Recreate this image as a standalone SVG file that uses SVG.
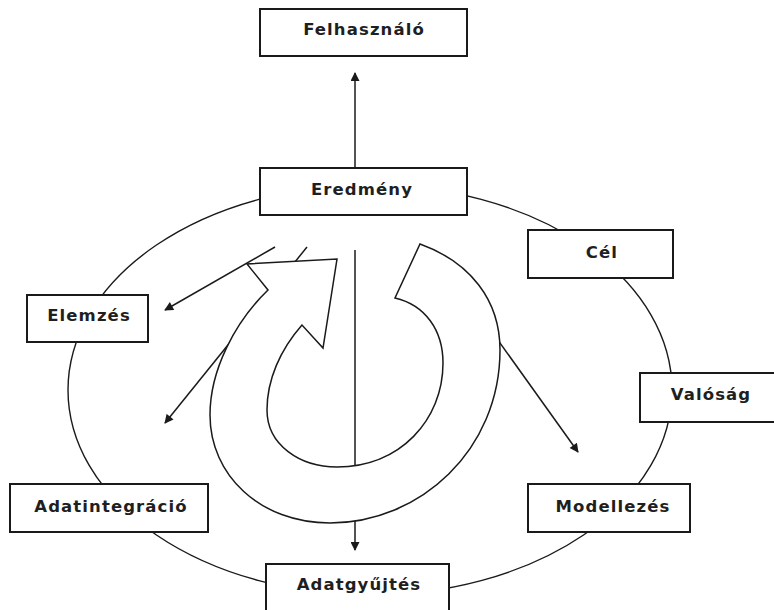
<svg xmlns="http://www.w3.org/2000/svg" width="774" height="610" viewBox="0 0 774 610">
<defs>
<style>
.box{fill:#fff;stroke:#1a1a1a;stroke-width:2}
.lbl{font-family:"DejaVu Sans",Verdana,sans-serif;font-weight:bold;font-size:16.5px;letter-spacing:1.1px;fill:#1f1f1f;text-anchor:middle;dominant-baseline:central}
.ln{fill:none;stroke:#1a1a1a;stroke-width:1.4}
.arw{fill:none;stroke:#1a1a1a;stroke-width:1.5;marker-end:url(#ah)}
</style>
<marker id="ah" viewBox="0 0 10 10" refX="9" refY="5" markerWidth="10" markerHeight="9" markerUnits="userSpaceOnUse" orient="auto">
<path d="M0,0 L10,5 L0,10 Z" fill="#1a1a1a"/>
</marker>
</defs>
<rect width="774" height="610" fill="#fff"/>
<g id="connectors">
<ellipse class="ln" cx="370" cy="390" rx="302" ry="205"/>
<line class="arw" x1="355" y1="168" x2="355" y2="73"/>
<line class="arw" x1="355" y1="250" x2="355" y2="550"/>
<line class="arw" x1="275" y1="247" x2="165" y2="310"/>
<line class="arw" x1="307" y1="247" x2="165" y2="423"/>
<line class="arw" x1="480" y1="315" x2="578" y2="452"/>
</g>
<g id="cycle-arrow">
<path d="M420,244 C470,262 500,300 500,350 C500,450 420,523 330,523 C260,523 210,475 210,415 C210,370 235,322 268,290 L247,264 L337,259 L323,348 L302,325 C280,350 267,380 267,410 C267,445 300,467 337,467 C400,467 443,420 443,363 C443,330 425,305 395,298 Z" fill="#fff" stroke="#1a1a1a" stroke-width="1.5" stroke-linejoin="miter"/>
</g>
<g id="felhasznalo"><rect class="box" x="260" y="9" width="207" height="47"/><text class="lbl" x="364" y="29">Felhasználó</text></g>
<g id="eredmeny"><rect class="box" x="260" y="168" width="207" height="47"/><text class="lbl" x="362" y="189">Eredmény</text></g>
<g id="cel"><rect class="box" x="528" y="230" width="145" height="48"/><text class="lbl" x="602" y="252">Cél</text></g>
<g id="valosag"><rect class="box" x="640" y="373" width="145" height="49"/><text class="lbl" x="711" y="394">Valóság</text></g>
<g id="elemzes"><rect class="box" x="27" y="295" width="121" height="47"/><text class="lbl" x="89" y="315">Elemzés</text></g>
<g id="adatintegracio"><rect class="box" x="10" y="484" width="198" height="48"/><text class="lbl" x="111" y="506">Adatintegráció</text></g>
<g id="modellezes"><rect class="box" x="528" y="484" width="162" height="48"/><text class="lbl" x="613" y="506">Modellezés</text></g>
<g id="adatgyujtes"><rect class="box" x="266" y="564" width="183" height="60"/><text class="lbl" x="359" y="584">Adatgyűjtés</text></g>
</svg>
